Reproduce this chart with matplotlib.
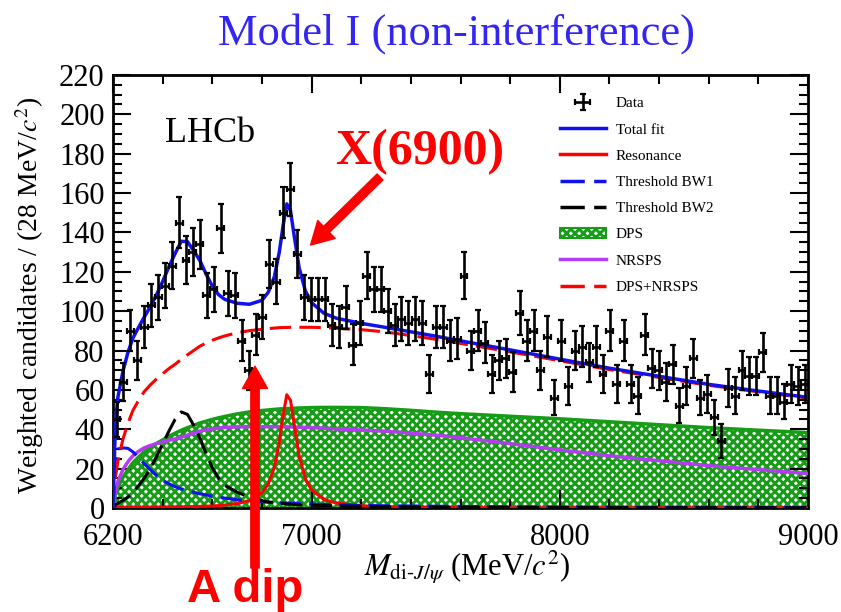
import numpy as np
import matplotlib
matplotlib.use('Agg')
import matplotlib.pyplot as plt
from matplotlib.patches import Patch
from matplotlib.lines import Line2D
from matplotlib.ticker import MultipleLocator

# di-J/psi mass spectrum, 28 MeV bins from 6200 to 9000
bin_width = 28
counts = [45, 64, 90, 75, 92, 103, 107, 113, 123, 145,
          126, 130, 134, 108, 111, 142, 109, 108, 85, 70,
          88, 97, 124, 115, 150, 162, 129, 107, 106, 106,
          106, 93, 92, 102, 83, 94, 118, 111, 111, 100,
          93, 96, 94, 96, 94, 68, 92, 92, 85, 86,
          118, 80, 90, 84, 68, 75, 76, 69, 99, 85,
          90, 70, 87, 56, 85, 62, 80, 82, 74, 82,
          68, 90, 63, 85, 63, 57, 88, 71, 70, 64,
          73, 52, 62, 76, 56, 58, 46, 34, 61, 57,
          70, 67, 67, 79, 57, 57, 54, 63, 62, 63]
errors = [9, 9.5, 10.5, 10, 10.5, 11, 11.5, 11.5, 12, 13,
          12, 12, 12.5, 11.5, 11.5, 12.5, 11.5, 11.5, 10.5, 10,
          10.5, 11, 12, 11.5, 13, 13.5, 12, 11.5, 11, 11,
          11, 10.5, 10.5, 11, 10.5, 11, 12, 11.5, 11.5, 11,
          10.5, 11, 11, 11, 11, 9.5, 10.5, 10.5, 10.5, 10.5,
          12, 10, 10.5, 10.5, 9.5, 10, 10, 10, 11, 10.5,
          10.5, 10, 10.5, 9, 10.5, 9.5, 10, 10.5, 10, 10.5,
          9.5, 10.5, 9.5, 10.5, 9.5, 9.5, 10.5, 10, 10, 9.5,
          10, 9, 9.5, 10, 9, 9.5, 9, 8.5, 9.5, 9.5,
          10, 9.5, 9.5, 10, 9.5, 9.5, 9, 9.5, 9.5, 9.5]
bin_centers = np.arange(6200, 9000, bin_width) + bin_width / 2

# fit components
curve_mass = [6200, 6210, 6220, 6240, 6260, 6280, 6300, 6325, 6350, 6375,
              6400, 6425, 6450, 6475, 6500, 6525, 6550, 6575, 6600, 6625,
              6650, 6700, 6750, 6800, 6825, 6850, 6870, 6885, 6900, 6915,
              6930, 6950, 6975, 7000, 7050, 7100, 7200, 7300, 7400, 7500,
              7600, 7800, 8000, 8200, 8400, 8600, 8800, 9000]
total_fit = [0, 44.7, 56.6, 69.5, 79, 86.3, 91.1, 96.8, 102.3, 108.3,
             115.1, 122.5, 129.3, 135.5, 135.3, 130.7, 125.7, 118.8, 112.7, 108.4,
             106, 104, 103.5, 105.5, 109.5, 117.5, 130.1, 143.3, 154.5, 151,
             138.2, 121.9, 110.2, 104.3, 98.9, 96.4, 93.8, 91.7, 89.5, 87.3,
             84.9, 80.3, 75.6, 71, 66.9, 62.8, 59.4, 56.2]
resonance = [0.2, 0.2, 0.2, 0.2, 0.2, 0.3, 0.3, 0.3, 0.3, 0.3,
             0.4, 0.4, 0.5, 0.5, 0.6, 0.7, 0.8, 0.9, 1, 1.2,
             1.5, 2.2, 3.8, 7.7, 12.1, 20.7, 33.5, 46.9, 57.5, 54.7,
             42.3, 26.3, 14.8, 9.1, 4.3, 2.5, 1.1, 0.6, 0.4, 0.3,
             0.2, 0.1, 0.1, 0.1, 0.1, 0.1, 0.1, 0.1]
threshold_bw1 = [0, 27, 30, 30.5, 30.3, 28.5, 26, 22.5, 19.5, 16.5,
                 14, 12.3, 10.8, 9.7, 8.8, 8, 7.2, 6.6, 6, 5.4,
                 5, 4.2, 3.6, 3.1, 2.9, 2.7, 2.6, 2.5, 2.4, 2.3,
                 2.3, 2.2, 2.1, 2, 1.8, 1.6, 1.3, 1.1, 1, 0.9,
                 0.8, 0.6, 0.5, 0.4, 0.3, 0.3, 0.2, 0.2]
threshold_bw2 = [0, 1.5, 2.4, 3.8, 5.5, 8, 10.8, 15, 20, 26,
                 32.5, 39, 45, 48.8, 47.5, 42, 35.5, 27.5, 20.5, 15,
                 11.5, 8, 5.5, 3.6, 3.1, 2.7, 2.4, 2.2, 2, 1.9,
                 1.8, 1.6, 1.5, 1.4, 1.2, 1, 0.8, 0.6, 0.5, 0.4,
                 0.3, 0.3, 0.2, 0.2, 0.1, 0.1, 0.1, 0.1]
dps = [0, 7, 10.5, 15.5, 19.5, 23, 25.5, 28.5, 30.8, 32.8,
       34.6, 36.4, 38, 39.5, 40.8, 42, 43.2, 44.1, 45, 45.8,
       46.5, 47.8, 48.8, 49.5, 49.8, 50.1, 50.3, 50.4, 50.5, 50.6,
       50.7, 50.8, 50.9, 51, 51.1, 51.1, 51, 50.4, 49.6, 48.7,
       47.9, 46.6, 45.3, 43.8, 42.3, 40.8, 39.5, 38.3]
nrsps = [0, 9, 13.5, 19.5, 23.5, 26.5, 28.5, 30.5, 31.7, 32.7,
         33.6, 34.4, 35, 36, 37, 38, 39, 39.7, 40.2, 40.6,
         40.9, 41.2, 41.3, 41.3, 41.3, 41.3, 41.3, 41.3, 41.2, 41.2,
         41.1, 41, 40.9, 40.8, 40.5, 40.2, 39.6, 39, 38, 37,
         35.7, 32.7, 29.5, 26.5, 24, 21.5, 19.5, 17.5]
dps_nrsps = [0, 16, 24, 35, 43, 49.5, 54, 59, 62.5, 65.5,
             68.2, 70.8, 73, 75.5, 77.8, 80, 82.2, 83.8, 85.2, 86.4,
             87.4, 89, 90.1, 90.8, 91.1, 91.4, 91.6, 91.7, 91.7, 91.8,
             91.8, 91.8, 91.8, 91.8, 91.6, 91.3, 90.6, 89.4, 87.6, 85.7,
             83.6, 79.3, 74.8, 70.3, 66.3, 62.3, 59, 55.8]

plt.rcParams['font.family'] = ['Liberation Serif', 'DejaVu Serif']
plt.rcParams['mathtext.fontset'] = 'stix'
plt.rcParams['hatch.linewidth'] = 2.1

blue = '#1010f0'
green = '#169c16'
purple = '#b43cf0'
dash = (0, (7, 2.7))

fig = plt.figure(figsize=(8.41, 6.12), dpi=100)
ax = fig.add_axes([0.1344, 0.170, 0.8264, 0.7075])

ax.fill_between(curve_mass, dps, 0, facecolor='white', edgecolor=green,
                hatch='xxxx', linewidth=0, zorder=1)
ax.plot(curve_mass, dps, color=green, lw=2.5, zorder=2)
ax.plot(curve_mass, nrsps, color=purple, lw=2.5, zorder=3)
ax.plot(curve_mass, resonance, color='red', lw=2.2, zorder=4)
ax.plot(curve_mass, threshold_bw1, color=blue, lw=2.2, ls=dash, zorder=4)
ax.plot(curve_mass, threshold_bw2, color='black', lw=2.2, ls=dash, zorder=4)
ax.plot(curve_mass, dps_nrsps, color='red', lw=2.2, ls=dash, zorder=5)
ax.plot(curve_mass, total_fit, color=blue, lw=2.5, zorder=6)
data = ax.errorbar(bin_centers, counts, yerr=errors, xerr=bin_width / 2,
                   fmt='none', ecolor='black', elinewidth=1.9,
                   capsize=2, capthick=1.6, zorder=7)

ax.set_xlim(6200, 9000)
ax.set_ylim(0, 220)
ax.set_xticks([6200, 7000, 8000, 9000])
ax.xaxis.set_minor_locator(MultipleLocator(200))
ax.yaxis.set_major_locator(MultipleLocator(20))
ax.yaxis.set_minor_locator(MultipleLocator(5))
ax.tick_params(which='both', direction='in', top=True, right=True,
               labelsize=22, width=1.5)
ax.tick_params(which='major', length=13)
ax.tick_params(which='minor', length=6.5)
ax.tick_params(axis='x', pad=11)
ax.tick_params(axis='y', pad=6)
for s in ax.spines.values():
    s.set_linewidth(2)

ax.set_ylabel(r'Weighted candidates / (28 MeV/$c^2$)', fontsize=20)
ax.yaxis.set_label_coords(-0.097, 0.49)
ax.set_xlabel(r'$M_{\mathrm{di}\text{-}J/\psi}$ (MeV/$c^2$)', fontsize=22)
ax.xaxis.set_label_coords(0.51, -0.095)

ax.text(0.075, 0.864, 'LHCb', transform=ax.transAxes, fontsize=26, va='center')

handles = [data,
           Line2D([], [], color=blue, lw=2.5),
           Line2D([], [], color='red', lw=2.5),
           Line2D([], [], color=blue, lw=2.5, ls=dash),
           Line2D([], [], color='black', lw=2.5, ls=dash),
           Patch(facecolor='white', edgecolor=green, hatch='xxxx', lw=1.5),
           Line2D([], [], color=purple, lw=2.5),
           Line2D([], [], color='red', lw=2.5, ls=dash)]
labels = ['Data', 'Total fit', 'Resonance', 'Threshold BW1', 'Threshold BW2',
          'DPS', 'NRSPS', 'DPS+NRSPS']
ax.legend(handles, labels, loc='upper left', bbox_to_anchor=(0.643, 0.95),
          frameon=False, fontsize=11, handlelength=3.0, handletextpad=0.65,
          labelspacing=0.82, borderpad=0, borderaxespad=0)

fig.text(0.543, 0.946, 'Model I (non-interference)', color='#3326f2',
         fontsize=32, ha='center', va='center')

# annotations
fig.text(420 / 841, 1 - 152 / 612, 'X(6900)', color='red', fontsize=36,
         fontweight='bold', ha='center', va='center')
ax.annotate('', xy=(6996, 133.6), xycoords='data',
            xytext=(380, 612 - 177), textcoords='figure pixels',
            arrowprops=dict(width=6, headwidth=18, headlength=16,
                            color='red', shrink=0),
            annotation_clip=False, zorder=10)
fig.text(245 / 841, 1 - 590 / 612, 'A dip', color='red', fontsize=34,
         fontweight='bold', family='Liberation Sans', ha='center', va='center')
ax.annotate('', xy=(6772, 72), xycoords='data',
            xytext=(255, 612 - 568), textcoords='figure pixels',
            arrowprops=dict(width=6, headwidth=18, headlength=16,
                            color='red', shrink=0),
            annotation_clip=False, zorder=10)

fig.savefig('out.png', dpi=100)
